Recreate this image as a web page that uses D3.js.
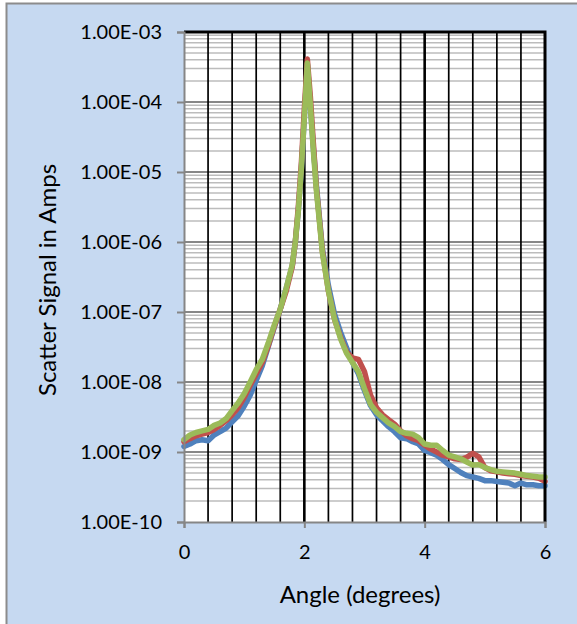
<!DOCTYPE html>
<html>
<head>
<meta charset="utf-8">
<script src="https://cdn.jsdelivr.net/npm/d3@7"></script>
<style>
  body { margin: 0; background: #fff; }
  text { font-family: Lato, "Open Sans", sans-serif; fill: #000; }
</style>
</head>
<body>
<script>
// angle in degrees (shared by the three runs)
var angles = [0, 0.1, 0.2, 0.3, 0.4, 0.5, 0.6, 0.7, 0.8, 0.9, 1.0, 1.1, 1.2, 1.3, 1.4, 1.5, 1.6, 1.7, 1.8,
  1.85, 1.9, 1.95, 2.0, 2.05, 2.1, 2.15, 2.2,
  2.3, 2.4, 2.5, 2.6, 2.7, 2.8, 2.9, 3.0, 3.1, 3.2, 3.3, 3.4, 3.5, 3.6, 3.7, 3.8, 3.9, 4.0,
  4.1, 4.2, 4.3, 4.4, 4.5, 4.6, 4.7, 4.8, 4.9, 5.0, 5.1, 5.2, 5.3, 5.4, 5.5, 5.6, 5.7, 5.8, 5.9, 6.0];

var blueSignal = [1.2e-9, 1.3e-9, 1.45e-9, 1.5e-9, 1.45e-9, 1.75e-9, 1.95e-9, 2.2e-9, 2.7e-9, 3.3e-9, 4.5e-9, 6.5e-9, 1.05e-8, 1.7e-8, 3.2e-8, 6e-8, 1.1e-7, 2.2e-7, 4.6e-7,
  1.0e-6, 2.8e-6, 1.1e-5, 6e-5, 3.5e-4, 9e-5, 2.2e-5, 6.5e-6,
  8e-7, 2.4e-7, 9.5e-8, 5.2e-8, 3.1e-8, 1.9e-8, 1.3e-8, 7.5e-9, 4.6e-9, 3.4e-9, 2.8e-9, 2.3e-9, 1.95e-9, 1.6e-9, 1.55e-9, 1.4e-9, 1.3e-9, 1.05e-9,
  9.8e-10, 9e-10, 7.8e-10, 6.6e-10, 5.8e-10, 5.1e-10, 4.6e-10, 4.4e-10, 4.2e-10, 3.9e-10, 3.9e-10, 3.8e-10, 3.7e-10, 3.6e-10, 3.3e-10, 3.6e-10, 3.4e-10, 3.4e-10, 3.3e-10, 3.3e-10];

var redSignal = [1.4e-9, 1.55e-9, 1.7e-9, 1.8e-9, 1.9e-9, 2.1e-9, 2.4e-9, 2.8e-9, 3.4e-9, 4.3e-9, 6e-9, 9e-9, 1.3e-8, 1.9e-8, 3.3e-8, 6.2e-8, 1.1e-7, 2.0e-7, 4.5e-7,
  1.0e-6, 3.2e-6, 1.3e-5, 8e-5, 4.1e-4, 1.2e-4, 2.6e-5, 6e-6,
  7.5e-7, 2e-7, 8e-8, 4.4e-8, 2.7e-8, 2.2e-8, 2.1e-8, 1.4e-8, 6.5e-9, 4.3e-9, 3.4e-9, 2.9e-9, 2.5e-9, 2.0e-9, 1.7e-9, 1.55e-9, 1.45e-9, 1.25e-9,
  1.1e-9, 1.0e-9, 9e-10, 8.5e-10, 8e-10, 7.8e-10, 8.4e-10, 9.6e-10, 8.5e-10, 6e-10, 5.4e-10, 5.2e-10, 5.0e-10, 4.9e-10, 4.8e-10, 4.6e-10, 4.5e-10, 4.4e-10, 4.2e-10, 3.8e-10];

var greenSignal = [1.5e-9, 1.75e-9, 1.9e-9, 2.0e-9, 2.1e-9, 2.4e-9, 2.6e-9, 3.0e-9, 3.9e-9, 5.0e-9, 6.8e-9, 1.0e-8, 1.5e-8, 2.1e-8, 3.6e-8, 6.5e-8, 1.1e-7, 2.2e-7, 4.8e-7,
  1.0e-6, 2.8e-6, 1.1e-5, 6e-5, 3.6e-4, 9e-5, 2.0e-5, 5.5e-6,
  7e-7, 2e-7, 8e-8, 4.2e-8, 2.6e-8, 1.9e-8, 1.4e-8, 8e-9, 4.8e-9, 3.7e-9, 3.1e-9, 2.6e-9, 2.3e-9, 1.95e-9, 1.85e-9, 1.8e-9, 1.6e-9, 1.3e-9,
  1.25e-9, 1.25e-9, 1.05e-9, 9e-10, 8.5e-10, 8e-10, 7.2e-10, 6.5e-10, 6.6e-10, 6e-10, 5.6e-10, 5.3e-10, 5.2e-10, 5.1e-10, 5.0e-10, 4.8e-10, 4.6e-10, 4.5e-10, 4.4e-10, 4.4e-10];

var xTicks = [0, 2, 4, 6];
var yTicks = [1e-10, 1e-9, 1e-8, 1e-7, 1e-6, 1e-5, 1e-4, 1e-3];

var series = [
  {name: "blue", values: blueSignal, color: "#4F81BD"},
  {name: "red", values: redSignal, color: "#C0504D"},
  {name: "green", values: greenSignal, color: "#9BBB59"}
];

var W = 577, H = 624;
var plotL = 184, plotR = 545, plotT = 32, plotB = 522;

var svg = d3.select("body").append("svg")
  .attr("width", W)
  .attr("height", H);

// chart area
svg.append("rect")
  .attr("x", 6.5).attr("y", 3.5)
  .attr("width", 650).attr("height", 700)
  .attr("fill", "#C6D9F1")
  .attr("stroke", "#8c8c8c")
  .attr("stroke-width", 2);

var x = d3.scaleLinear().domain([0, 6]).range([plotL, plotR]);
var y = d3.scaleLog().domain([1e-10, 1e-3]).range([plotB, plotT]);

svg.append("rect")
  .attr("x", plotL).attr("y", plotT)
  .attr("width", plotR - plotL).attr("height", plotB - plotT)
  .attr("fill", "#fff");

// minor horizontal grid (2..9 x 10^n)
var minor = y.ticks().filter(function(d) {
  var l = Math.log10(d);
  return Math.abs(l - Math.round(l)) > 1e-6;
});
svg.append("g").selectAll("line")
  .data(minor)
  .enter().append("line")
  .attr("x1", plotL).attr("x2", plotR)
  .attr("y1", function(d) { return y(d); })
  .attr("y2", function(d) { return y(d); })
  .attr("stroke", "#bcbcbc")
  .attr("stroke-width", 1.5);

// decade grid
svg.append("g").selectAll("line")
  .data(yTicks.slice(1, -1))
  .enter().append("line")
  .attr("x1", plotL).attr("x2", plotR)
  .attr("y1", function(d) { return y(d); })
  .attr("y2", function(d) { return y(d); })
  .attr("stroke", "#878787")
  .attr("stroke-width", 2);

// vertical grid every 0.4, heavier at major units
var vgrid = d3.range(1, 15).map(function(i) { return i * 0.4; });
svg.append("g").selectAll("line")
  .data(vgrid)
  .enter().append("line")
  .attr("x1", function(d) { return x(d); })
  .attr("x2", function(d) { return x(d); })
  .attr("y1", plotT).attr("y2", plotB)
  .attr("stroke", "#000")
  .attr("stroke-width", function(d) { return (Math.abs(d - 2) < 1e-6 || Math.abs(d - 4) < 1e-6) ? 2.6 : 1.7; });

var line = d3.line()
  .x(function(d) { return x(d[0]); })
  .y(function(d) { return y(d[1]); });

series.forEach(function(s) {
  svg.append("path")
    .datum(angles.map(function(a, i) { return [a, s.values[i]]; }))
    .attr("d", line)
    .attr("fill", "none")
    .attr("stroke", s.color)
    .attr("stroke-width", 5.5)
    .attr("stroke-linejoin", "round")
    .attr("stroke-linecap", "round");
});

// plot border top and right
svg.append("path")
  .attr("d", "M" + plotL + "," + plotT + "H" + plotR + "V" + plotB)
  .attr("fill", "none")
  .attr("stroke", "#000")
  .attr("stroke-width", 3);

function sci(d) {
  var e = Math.round(Math.log10(d));
  var m = d / Math.pow(10, e);
  var es = Math.abs(e) < 10 ? "0" + Math.abs(e) : "" + Math.abs(e);
  return m.toFixed(2) + "E" + (e < 0 ? "-" : "+") + es;
}

var yAxis = svg.append("g")
  .attr("transform", "translate(" + plotL + ",0)")
  .call(d3.axisLeft(y).tickValues(yTicks).tickFormat(sci).tickSizeOuter(0).tickSize(7).tickPadding(15));

var xAxis = svg.append("g")
  .attr("transform", "translate(0," + plotB + ")")
  .call(d3.axisBottom(x).tickValues(xTicks).tickFormat(d3.format("d")).tickSizeOuter(0).tickSize(6).tickPadding(17));

[yAxis, xAxis].forEach(function(g) {
  g.select(".domain").attr("stroke", "#868686").attr("stroke-width", 2);
  g.selectAll(".tick line").attr("stroke", "#868686").attr("stroke-width", 2);
  g.selectAll("text").attr("font-family", "Lato, 'Open Sans', sans-serif").attr("font-size", 20).attr("fill", "#000");
});

svg.append("text")
  .attr("transform", "translate(46,280) rotate(-90)")
  .attr("text-anchor", "middle")
  .attr("dominant-baseline", "central")
  .attr("font-size", 24)
  .text("Scatter Signal in Amps");

svg.append("text")
  .attr("x", 360).attr("y", 593)
  .attr("text-anchor", "middle")
  .attr("dominant-baseline", "central")
  .attr("font-size", 24)
  .text("Angle (degrees)");
</script>
</body>
</html>
